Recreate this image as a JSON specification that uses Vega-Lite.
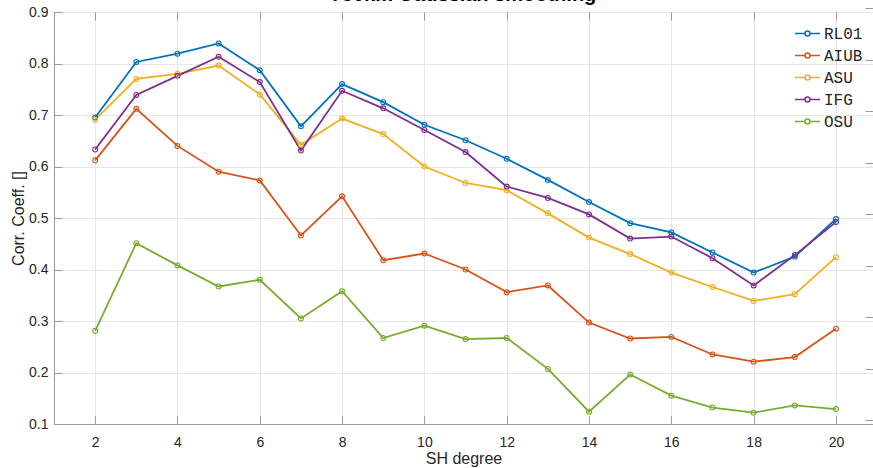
{
  "$schema": "https://vega.github.io/schema/vega-lite/v6.json",
  "width": 819,
  "height": 412,
  "autosize": "none",
  "padding": {"left": 54, "top": 12, "right": 0, "bottom": 44},
  "background": "white",
  "config": {
    "font": "Liberation Sans",
    "view": {"stroke": "#9a9a9a", "strokeWidth": 1}
  },
  "title": {
    "text": "750km Gaussian smoothing",
    "font": "Liberation Sans",
    "fontSize": 20,
    "fontWeight": "bold",
    "color": "#000000",
    "anchor": "middle",
    "baseline": "alphabetic",
    "offset": 0,
    "dy": 16
  },
  "data": {
    "values": [
      {"deg": 2, "series": "RL01", "r": 0.695}, {"deg": 3, "series": "RL01", "r": 0.803}, {"deg": 4, "series": "RL01", "r": 0.819}, {"deg": 5, "series": "RL01", "r": 0.839}, {"deg": 6, "series": "RL01", "r": 0.787}, {"deg": 7, "series": "RL01", "r": 0.678}, {"deg": 8, "series": "RL01", "r": 0.760}, {"deg": 9, "series": "RL01", "r": 0.725}, {"deg": 10, "series": "RL01", "r": 0.681}, {"deg": 11, "series": "RL01", "r": 0.651}, {"deg": 12, "series": "RL01", "r": 0.615}, {"deg": 13, "series": "RL01", "r": 0.574}, {"deg": 14, "series": "RL01", "r": 0.531}, {"deg": 15, "series": "RL01", "r": 0.490}, {"deg": 16, "series": "RL01", "r": 0.472}, {"deg": 17, "series": "RL01", "r": 0.433}, {"deg": 18, "series": "RL01", "r": 0.394}, {"deg": 19, "series": "RL01", "r": 0.425}, {"deg": 20, "series": "RL01", "r": 0.498},
      {"deg": 2, "series": "AIUB", "r": 0.612}, {"deg": 3, "series": "AIUB", "r": 0.712}, {"deg": 4, "series": "AIUB", "r": 0.640}, {"deg": 5, "series": "AIUB", "r": 0.590}, {"deg": 6, "series": "AIUB", "r": 0.573}, {"deg": 7, "series": "AIUB", "r": 0.466}, {"deg": 8, "series": "AIUB", "r": 0.542}, {"deg": 9, "series": "AIUB", "r": 0.418}, {"deg": 10, "series": "AIUB", "r": 0.431}, {"deg": 11, "series": "AIUB", "r": 0.400}, {"deg": 12, "series": "AIUB", "r": 0.356}, {"deg": 13, "series": "AIUB", "r": 0.369}, {"deg": 14, "series": "AIUB", "r": 0.297}, {"deg": 15, "series": "AIUB", "r": 0.266}, {"deg": 16, "series": "AIUB", "r": 0.269}, {"deg": 17, "series": "AIUB", "r": 0.235}, {"deg": 18, "series": "AIUB", "r": 0.221}, {"deg": 19, "series": "AIUB", "r": 0.230}, {"deg": 20, "series": "AIUB", "r": 0.285},
      {"deg": 2, "series": "ASU", "r": 0.691}, {"deg": 3, "series": "ASU", "r": 0.770}, {"deg": 4, "series": "ASU", "r": 0.780}, {"deg": 5, "series": "ASU", "r": 0.796}, {"deg": 6, "series": "ASU", "r": 0.740}, {"deg": 7, "series": "ASU", "r": 0.642}, {"deg": 8, "series": "ASU", "r": 0.693}, {"deg": 9, "series": "ASU", "r": 0.663}, {"deg": 10, "series": "ASU", "r": 0.600}, {"deg": 11, "series": "ASU", "r": 0.568}, {"deg": 12, "series": "ASU", "r": 0.554}, {"deg": 13, "series": "ASU", "r": 0.509}, {"deg": 14, "series": "ASU", "r": 0.462}, {"deg": 15, "series": "ASU", "r": 0.430}, {"deg": 16, "series": "ASU", "r": 0.394}, {"deg": 17, "series": "ASU", "r": 0.366}, {"deg": 18, "series": "ASU", "r": 0.339}, {"deg": 19, "series": "ASU", "r": 0.352}, {"deg": 20, "series": "ASU", "r": 0.424},
      {"deg": 2, "series": "IFG", "r": 0.633}, {"deg": 3, "series": "IFG", "r": 0.739}, {"deg": 4, "series": "IFG", "r": 0.776}, {"deg": 5, "series": "IFG", "r": 0.813}, {"deg": 6, "series": "IFG", "r": 0.764}, {"deg": 7, "series": "IFG", "r": 0.631}, {"deg": 8, "series": "IFG", "r": 0.747}, {"deg": 9, "series": "IFG", "r": 0.713}, {"deg": 10, "series": "IFG", "r": 0.671}, {"deg": 11, "series": "IFG", "r": 0.628}, {"deg": 12, "series": "IFG", "r": 0.561}, {"deg": 13, "series": "IFG", "r": 0.539}, {"deg": 14, "series": "IFG", "r": 0.507}, {"deg": 15, "series": "IFG", "r": 0.460}, {"deg": 16, "series": "IFG", "r": 0.464}, {"deg": 17, "series": "IFG", "r": 0.422}, {"deg": 18, "series": "IFG", "r": 0.369}, {"deg": 19, "series": "IFG", "r": 0.428}, {"deg": 20, "series": "IFG", "r": 0.492},
      {"deg": 2, "series": "OSU", "r": 0.281}, {"deg": 3, "series": "OSU", "r": 0.451}, {"deg": 4, "series": "OSU", "r": 0.408}, {"deg": 5, "series": "OSU", "r": 0.367}, {"deg": 6, "series": "OSU", "r": 0.380}, {"deg": 7, "series": "OSU", "r": 0.305}, {"deg": 8, "series": "OSU", "r": 0.358}, {"deg": 9, "series": "OSU", "r": 0.267}, {"deg": 10, "series": "OSU", "r": 0.291}, {"deg": 11, "series": "OSU", "r": 0.265}, {"deg": 12, "series": "OSU", "r": 0.267}, {"deg": 13, "series": "OSU", "r": 0.207}, {"deg": 14, "series": "OSU", "r": 0.124}, {"deg": 15, "series": "OSU", "r": 0.196}, {"deg": 16, "series": "OSU", "r": 0.155}, {"deg": 17, "series": "OSU", "r": 0.132}, {"deg": 18, "series": "OSU", "r": 0.122}, {"deg": 19, "series": "OSU", "r": 0.136}, {"deg": 20, "series": "OSU", "r": 0.129}
    ]
  },
  "layer": [
    {
      "mark": {"type": "point", "opacity": 0},
      "encoding": {
        "x": {"field": "deg", "type": "quantitative", "scale": {"domain": [1, 20.9], "nice": false, "zero": false},
          "axis": {"orient": "top", "values": [2, 4, 6, 8, 10, 12, 14, 16, 18, 20], "labels": false, "title": null, "grid": false, "domain": false, "tickSize": -8, "tickColor": "#9a9a9a"}},
        "y": {"field": "r", "type": "quantitative", "scale": {"domain": [0.1, 0.9], "nice": false, "zero": false},
          "axis": {"orient": "right", "values": [0.1, 0.2, 0.3, 0.4, 0.5, 0.6, 0.7, 0.8, 0.9], "labels": false, "title": null, "grid": false, "domain": false, "tickSize": -8, "tickOffset": -4, "tickColor": "#9a9a9a"}}
      }
    },
    {
      "mark": {"type": "line", "strokeWidth": 1.8, "point": {"filled": false, "size": 24, "strokeWidth": 1.1}},
      "encoding": {
        "x": {"field": "deg", "type": "quantitative",
          "axis": {"orient": "bottom", "values": [2, 4, 6, 8, 10, 12, 14, 16, 18, 20], "title": "SH degree", "titleFontSize": 16, "titleFontWeight": "normal", "titleColor": "#262626", "titlePadding": 1, "labelFontSize": 14, "labelColor": "#262626", "labelPadding": 19, "tickSize": -8, "tickColor": "#9a9a9a", "domainColor": "#9a9a9a", "grid": true, "gridColor": "#e6e6e6"}},
        "y": {"field": "r", "type": "quantitative",
          "axis": {"orient": "left", "values": [0.1, 0.2, 0.3, 0.4, 0.5, 0.6, 0.7, 0.8, 0.9], "format": ".1f", "title": "Corr. Coeff. []", "titleFontSize": 16, "titleFontWeight": "normal", "titleColor": "#262626", "titlePadding": 2, "labelFontSize": 14, "labelColor": "#262626", "labelPadding": 14, "tickSize": -8, "tickColor": "#9a9a9a", "domainColor": "#9a9a9a", "grid": true, "gridColor": "#e6e6e6"}},
        "color": {"field": "series", "type": "nominal",
          "scale": {"domain": ["RL01", "AIUB", "ASU", "IFG", "OSU"], "range": ["#0072BD", "#D95319", "#EDB120", "#7E2F8E", "#77AC30"]},
          "legend": {"orient": "none", "legendX": 740, "legendY": 8, "title": null, "symbolType": "M-1,0H-0.2A0.2,0.2,0,1,1,0.2,0A0.2,0.2,0,1,1,-0.2,0M0.2,0H1", "symbolSize": 625, "symbolStrokeWidth": 1.5, "labelFont": "Liberation Mono", "labelFontSize": 16, "labelColor": "#262626", "labelOffset": 3, "rowPadding": -4}}
      }
    }
  ],
  "resolve": {"axis": {"x": "independent", "y": "independent"}}
}
